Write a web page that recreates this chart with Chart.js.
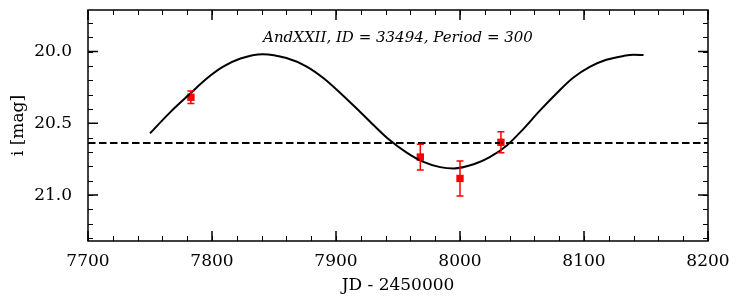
<!DOCTYPE html>
<html>
<head>
<meta charset="utf-8">
<script src="https://cdn.jsdelivr.net/npm/chart.js@4/dist/chart.umd.min.js"></script>
<style>
  html, body { margin: 0; padding: 0; background: #fff; }
  #wrap { width: 740px; height: 306px; }
</style>
</head>
<body>
<div id="wrap"><canvas id="lc"></canvas></div>
<script>
// light curve fit
var curveJD  = [7750, 7766, 7782, 7796, 7809, 7823, 7841, 7860, 7876, 7890, 7903, 7917, 7930, 7943, 7957, 7970, 7984, 7995, 8011, 8024, 8038, 8051, 8064, 8078, 8091, 8105, 8118, 8132, 8140, 8148];
var curveMag = [20.570, 20.425, 20.296, 20.186, 20.105, 20.048, 20.018, 20.045, 20.103, 20.186, 20.285, 20.400, 20.510, 20.615, 20.704, 20.767, 20.805, 20.814, 20.785, 20.735, 20.652, 20.540, 20.415, 20.290, 20.184, 20.105, 20.057, 20.030, 20.022, 20.024];

// observations
var obsJD  = [7783, 7968, 8000, 8033];
var obsMag = [20.318, 20.735, 20.884, 20.632];
var obsErr = [0.044, 0.09, 0.122, 0.073];

var meanMag = 20.637;

var xTicks = [7700, 7800, 7900, 8000, 8100, 8200];
var yTicks = [20.0, 20.5, 21.0];
var titleText = "AndXXII, ID = 33494, Period = 300";

var serif = '"DejaVu Serif", serif';

var boxTicks = {
    id: 'boxTicks',
    afterDatasetsDraw: function(chart){
        var ctx = chart.ctx,
            xs  = chart.scales.x,
            ys  = chart.scales.y;
        ctx.save();
        ctx.strokeStyle = '#ff0000';
        ctx.lineWidth = 1.5;
        for (var i = 0; i < obsJD.length; i++){
            var px = xs.getPixelForValue(obsJD[i]),
                y1 = ys.getPixelForValue(obsMag[i] - obsErr[i]),
                y2 = ys.getPixelForValue(obsMag[i] + obsErr[i]);
            ctx.beginPath();
            ctx.moveTo(px, y1); ctx.lineTo(px, y2);
            ctx.moveTo(px - 3.5, y1); ctx.lineTo(px + 3.5, y1);
            ctx.moveTo(px - 3.5, y2); ctx.lineTo(px + 3.5, y2);
            ctx.stroke();
        }
        ctx.restore();
    },
    afterDraw: function(chart){
        var ctx = chart.ctx,
            a   = chart.chartArea,
            xs  = chart.scales.x,
            ys  = chart.scales.y;
        ctx.save();
        ctx.strokeStyle = '#000';

        // minor ticks
        ctx.lineWidth = 1;
        ctx.beginPath();
        for (var v = xs.min; v <= xs.max; v += 20){
            var px = Math.round(xs.getPixelForValue(v)) + 0.5;
            ctx.moveTo(px, a.bottom); ctx.lineTo(px, a.bottom - 5);
            ctx.moveTo(px, a.top);    ctx.lineTo(px, a.top + 5);
        }
        for (var m = 19.8; m <= 21.31; m += 0.1){
            var py = Math.round(ys.getPixelForValue(m)) + 0.5;
            ctx.moveTo(a.left, py);  ctx.lineTo(a.left + 5, py);
            ctx.moveTo(a.right, py); ctx.lineTo(a.right - 5, py);
        }
        ctx.stroke();

        // major ticks
        ctx.lineWidth = 1.5;
        ctx.beginPath();
        xTicks.forEach(function(t){
            var px = xs.getPixelForValue(t);
            ctx.moveTo(px, a.bottom); ctx.lineTo(px, a.bottom - 10);
            ctx.moveTo(px, a.top);    ctx.lineTo(px, a.top + 10);
        });
        yTicks.forEach(function(t){
            var py = ys.getPixelForValue(t);
            ctx.moveTo(a.left, py);  ctx.lineTo(a.left + 10, py);
            ctx.moveTo(a.right, py); ctx.lineTo(a.right - 10, py);
        });
        ctx.stroke();

        // frame
        ctx.lineWidth = 1.5;
        ctx.strokeRect(a.left, a.top, a.right - a.left, a.bottom - a.top);

        // title inside the plot
        ctx.fillStyle = '#000';
        ctx.font = 'italic 15px ' + serif;
        ctx.textAlign = 'center';
        ctx.textBaseline = 'middle';
        ctx.fillText(titleText, (a.left + a.right) / 2, 38);
        ctx.restore();
    }
};

var pts = function(xv, yv){
    return xv.map(function(v, i){ return {x: v, y: yv[i]}; });
};

var ctx = document.getElementById('lc');
var chart = new Chart(ctx, {
    type: 'scatter',
    data: {
        datasets: [{
            data: pts(curveJD, curveMag),
            showLine: true,
            borderColor: '#000',
            borderWidth: 2,
            pointRadius: 0,
            cubicInterpolationMode: 'monotone'
        }, {
            data: [{x: 7700, y: meanMag}, {x: 8200, y: meanMag}],
            showLine: true,
            borderColor: '#000',
            borderWidth: 2,
            borderDash: [7.5, 3.5],
            pointRadius: 0
        }, {
            data: pts(obsJD, obsMag),
            pointStyle: 'rect',
            pointRadius: 5.2,
            backgroundColor: '#ff0000',
            borderColor: '#ff0000',
            borderWidth: 0
        }]
    },
    options: {
        responsive: true,
        maintainAspectRatio: false,
        animation: false,
        events: [],
        layout: { padding: { left: 0, right: 32, top: 10, bottom: 0 } },
        plugins: {
            legend: { display: false },
            tooltip: { enabled: false }
        },
        scales: {
            x: {
                type: 'linear',
                min: 7700,
                max: 8200,
                afterBuildTicks: function(s){ s.ticks = xTicks.map(function(v){ return {value: v}; }); },
                afterFit: function(s){ s.height = 65; s.paddingLeft = 0; s.paddingRight = 0; },
                grid: { display: false, drawTicks: false },
                border: { display: false },
                ticks: {
                    color: '#000',
                    padding: 10,
                    maxRotation: 0,
                    font: { family: serif, size: 17 },
                    callback: function(v){ return String(v); }
                },
                title: {
                    display: true,
                    text: 'JD - 2450000',
                    color: '#000',
                    padding: { top: 0, bottom: 10 },
                    font: { family: serif, size: 17 }
                }
            },
            y: {
                type: 'linear',
                reverse: true,
                min: 19.71,
                max: 21.32,
                afterBuildTicks: function(s){ s.ticks = yTicks.map(function(v){ return {value: v}; }); },
                afterFit: function(s){ s.width = 88; s.paddingTop = 0; s.paddingBottom = 0; },
                grid: { display: false, drawTicks: false },
                border: { display: false },
                ticks: {
                    color: '#000',
                    padding: 16,
                    font: { family: serif, size: 17 },
                    callback: function(v){ return v.toFixed(1); }
                },
                title: {
                    display: true,
                    text: 'i [mag]',
                    color: '#000',
                    padding: { top: 8, bottom: 0 },
                    font: { family: serif, size: 17 }
                }
            }
        }
    },
    plugins: [boxTicks]
});
</script>
</body>
</html>
